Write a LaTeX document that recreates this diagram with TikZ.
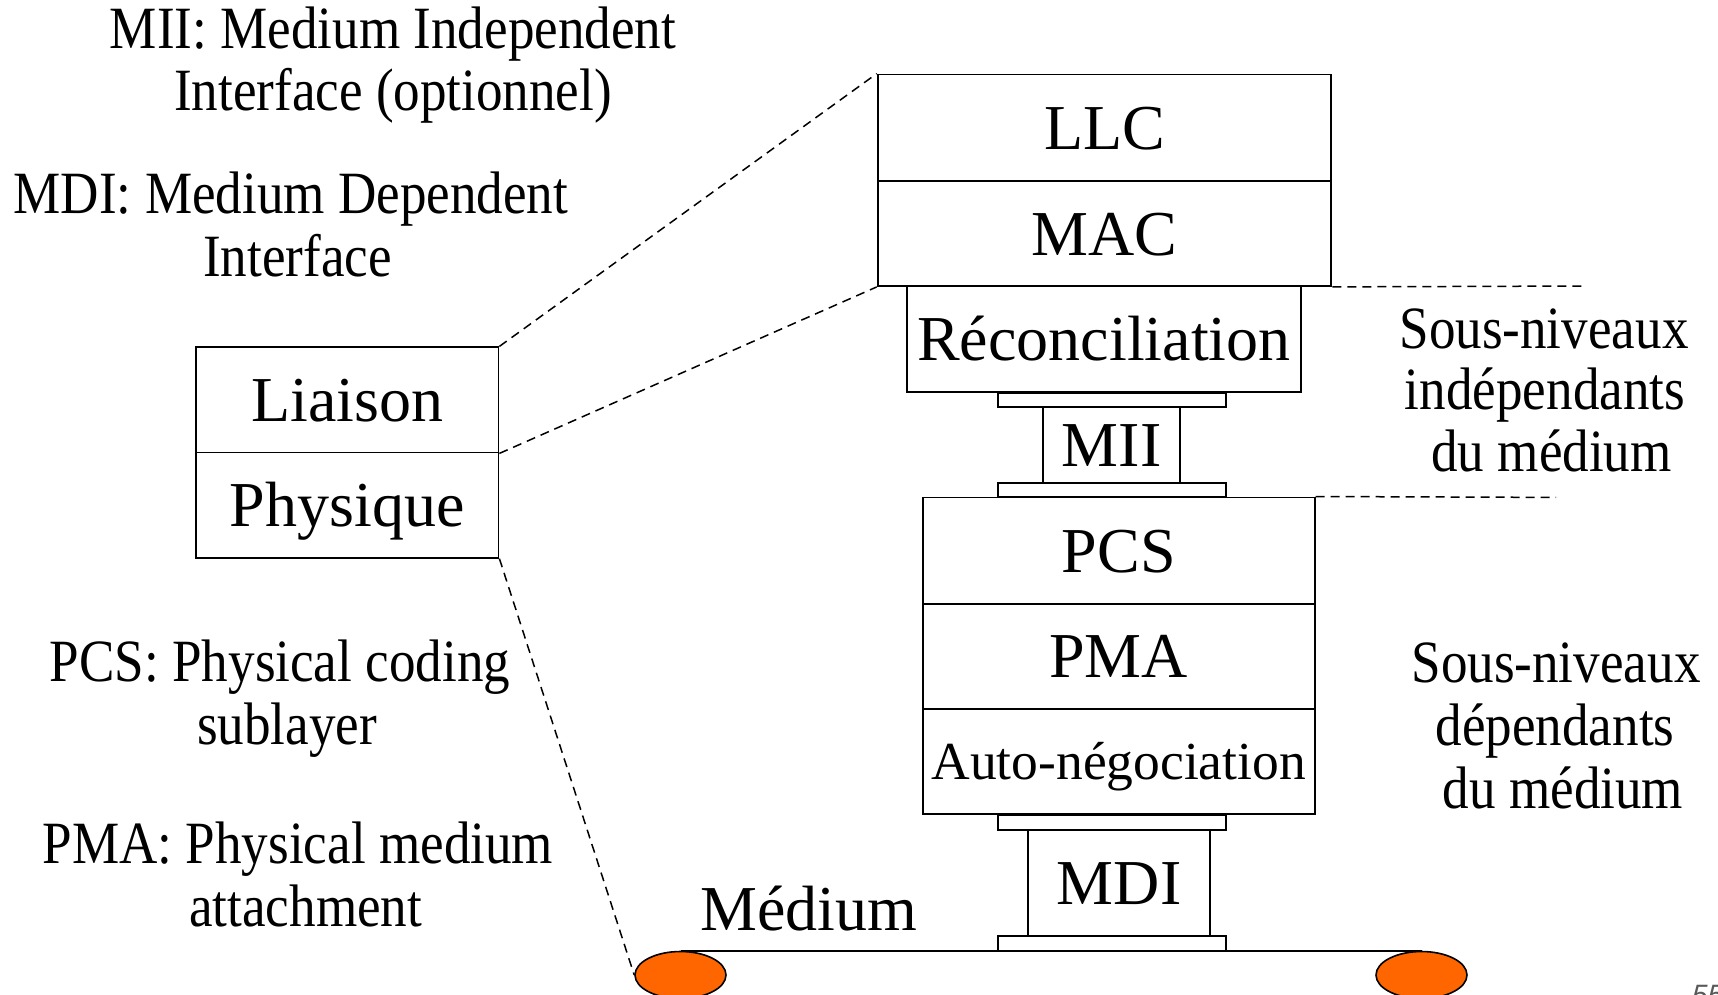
\documentclass[tikz,border=0pt]{standalone}
\usepackage{fontspec}
\setmainfont{Liberation Serif}
\newfontfamily\narrowserif{Liberation Serif}[FakeStretch=0.885]
\newfontfamily\pagefont{Liberation Sans}
\usetikzlibrary{shapes.geometric}
\tikzset{
  layer/.style={draw, line width=1.8pt, rectangle, inner sep=0pt,
    font=\fontsize{64}{70}\selectfont, text height=57pt, text depth=13.8pt},
  smalllayer/.style={layer, font=\fontsize{53.5}{60}\selectfont, text height=47.7pt, text depth=11.6pt},
  plate/.style={draw, line width=1.8pt, rectangle, inner sep=0pt},
  note/.style={inner sep=0pt, anchor=base, font=\narrowserif\fontsize{60}{62}\selectfont},
  bignote/.style={inner sep=0pt, anchor=base, font=\fontsize{64}{70}\selectfont},
  guide/.style={line width=1.5pt, dash pattern=on 9pt off 6pt},
  wire/.style={line width=1.8pt},
  cable/.style={draw=black, line width=1.6pt, fill=orange1, ellipse, inner sep=0pt,
    minimum width=91pt, minimum height=47pt},
}
\definecolor{orange1}{RGB}{255,102,0}
\begin{document}
\begin{tikzpicture}[x=1pt, y=-1pt]
\useasboundingbox (0,0) rectangle (1718,994);

% left stack
\node[layer, minimum width=302.5pt, minimum height=105.2pt] (liaison) at (347.25,399.9) {Liaison};
\node[layer, minimum width=302.5pt, minimum height=105.2pt] (physique) at (347.25,505.1) {Physique};

% right stack, upper part
\node[layer, minimum width=453.7pt, minimum height=106.3pt] (llc) at (1104.5,127.65) {LLC};
\node[layer, minimum width=453.7pt, minimum height=105.2pt] (mac) at (1104.5,233.4) {MAC};
\node[layer, minimum width=393.4pt, minimum height=106.3pt] (rec) at (1103.9,339.15) {Réconciliation};

% MII connector
\node[plate, minimum width=228pt, minimum height=14pt] (miitop) at (1111.7,399.7) {};
\node[layer, minimum width=136.7pt, minimum height=76pt] (mii) at (1111.7,444.7) {MII};
\node[plate, minimum width=228pt, minimum height=14.6pt] (miibot) at (1111.7,490) {};

% right stack, lower part
\node[layer, minimum width=392.2pt, minimum height=106.3pt] (pcs) at (1118.7,550.55) {PCS};
\node[layer, minimum width=392.2pt, minimum height=105.3pt] (pma) at (1118.7,656.35) {PMA};
\node[smalllayer, minimum width=392.2pt, minimum height=105pt] (auto) at (1118.7,761.5) {Auto-négociation};

% MDI connector
\node[plate, minimum width=228pt, minimum height=15pt] (mditop) at (1111.7,822.5) {};
\node[layer, minimum width=181.7pt, minimum height=106pt] (mdi) at (1119.15,883) {MDI};
\node[plate, minimum width=228pt, minimum height=15pt] (mdibot) at (1111.7,943.5) {};

% medium
\node[cable] (e1) at (680.5,975) {};
\node[cable] (e2) at (1421.5,975) {};
\draw[wire] (e1.north) -- (e2.north);
\node[bignote] (medium) at (808.6,930) {Médium};

% dashed guides
\coordinate (d1) at (1587,286);
\coordinate (d2) at (1556,497.4);
\draw[guide] (liaison.north east) -- (llc.north west);
\draw[guide] (liaison.south east) -- (mac.south west);
\draw[guide] (physique.south east) -- (e1.west);
\draw[guide] (mac.south east) -- (d1);
\draw[guide] (pcs.north east) -- (d2);

% left notes
\node[note] (mii1) at (393,48) {MII: Medium Independent};
\node[note] (mii2) at (393,110.5) {Interface (optionnel)};
\node[note] (mdi1) at (291,213) {MDI: Medium Dependent};
\node[note] (mdi2) at (297.5,276.5) {Interface};
\node[note] (pcs1) at (280,681) {PCS: Physical coding};
\node[note] (pcs2) at (287,744) {sublayer};
\node[note] (pma1) at (298,863) {PMA: Physical medium};
\node[note] (pma2) at (305.7,926) {attachment};

% right notes
\node[note] (ind1) at (1544,348) {Sous-niveaux};
\node[note] (ind2) at (1545,409) {indépendants};
\node[note] (ind3) at (1551.5,471.5) {du médium};
\node[note] (dep1) at (1556,682.5) {Sous-niveaux};
\node[note] (dep2) at (1555,745.5) {dépendants};
\node[note] (dep3) at (1563,808) {du médium};

% page number (cut off at the edge)
\begin{scope}
\clip (0,0) rectangle (1718,994);
\node[inner sep=0pt, anchor=north west, text=black!65, font=\pagefont\itshape\fontsize{28}{30}\selectfont] (pageno) at (1692,985) {55};
\end{scope}
\end{tikzpicture}
\end{document}
